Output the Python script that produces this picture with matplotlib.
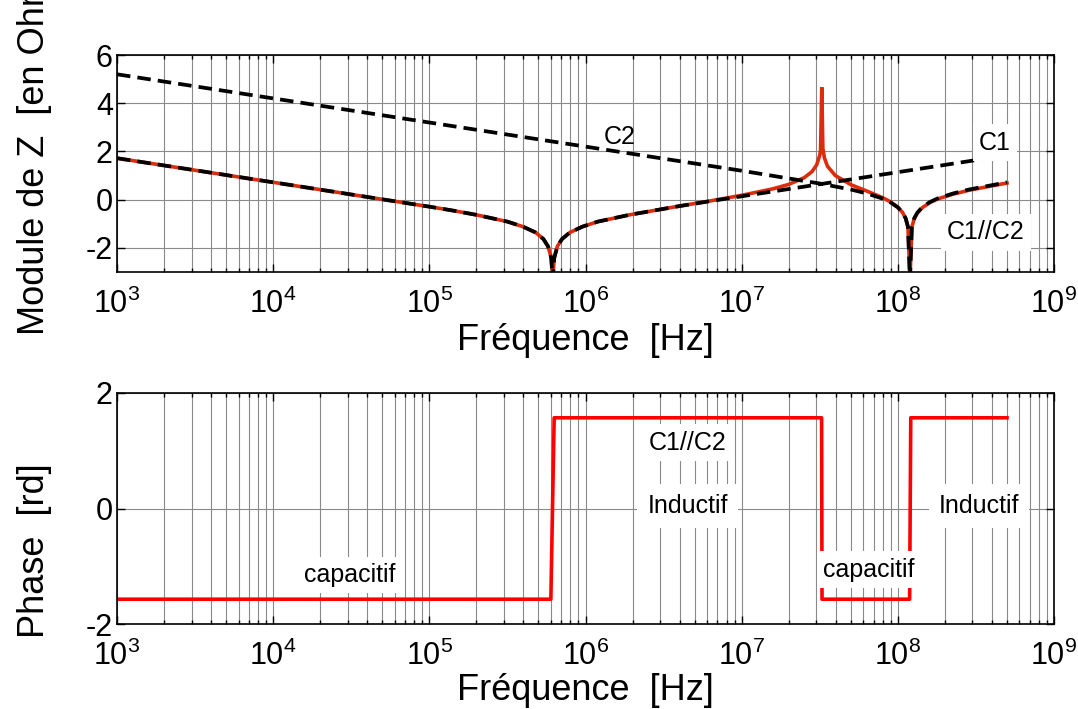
import matplotlib
matplotlib.use("Agg")
import matplotlib.pyplot as plt
from matplotlib.ticker import FixedLocator, NullFormatter

plt.rcParams['font.family'] = ['Liberation Sans', 'DejaVu Sans']
plt.rcParams['mathtext.fontset'] = 'custom'
plt.rcParams['mathtext.rm'] = 'Liberation Sans'
plt.rcParams['mathtext.it'] = 'Liberation Sans:italic'
plt.rcParams['mathtext.bf'] = 'Liberation Sans:bold'

# ---- log10 |Z| of capacitor C1 (with its series inductance) ----
c1_freq = [1e3, 1e4, 1e5, 1.41e5, 2.0e5, 3.16e5, 3.98e5, 4.79e5, 5.37e5, 5.75e5,
           6.03e5, 6.17e5, 6.31e5, 6.61e5, 7.08e5, 7.94e5, 9.55e5, 1.20e6,
           1.91e6, 3.80e6, 6.31e6, 1e7, 3.16e7, 1e8, 5.0e8]
c1_logz = [1.72, 0.72, -0.29, -0.45, -0.63, -0.91, -1.12, -1.36, -1.63, -1.93,
           -2.41, -3.3, -2.41, -1.93, -1.63, -1.36, -1.12, -0.91,
           -0.63, -0.29, -0.06, 0.14, 0.64, 1.14, 1.84]

# ---- log10 |Z| of capacitor C2 (with its series inductance) ----
c2_freq = [1e3, 1e5, 1e7, 3.16e7, 5.01e7, 6.31e7, 7.94e7, 8.91e7, 1.0e8, 1.072e8,
           1.122e8, 1.161e8, 1.196e8, 1.230e8, 1.274e8, 1.334e8, 1.429e8,
           1.603e8, 1.799e8, 2.265e8, 2.851e8, 5.0e8]
c2_logz = [5.2, 3.2, 1.2, 0.67, 0.42, 0.26, 0.05, -0.10, -0.32, -0.54,
           -0.77, -1.12, -3.3, -1.12, -0.77, -0.54, -0.32,
           -0.10, 0.05, 0.26, 0.42, 0.72]

# ---- log10 |Z| of C1 // C2 ----
par_freq = [1e3, 1e4, 1e5, 1.41e5, 2.0e5, 3.16e5, 3.98e5, 4.79e5, 5.37e5, 5.75e5,
            6.03e5, 6.17e5, 6.31e5, 6.61e5, 7.08e5, 7.94e5, 9.55e5, 1.20e6,
            1.91e6, 3.80e6, 6.31e6, 1e7, 1.585e7, 1.995e7, 2.512e7, 2.818e7,
            3.020e7, 3.162e7, 3.199e7, 3.258e7, 3.311e7, 3.388e7, 3.548e7,
            3.981e7, 5.012e7, 6.310e7, 7.943e7, 8.913e7, 1.0e8, 1.072e8,
            1.122e8, 1.161e8, 1.196e8, 1.230e8, 1.274e8, 1.334e8, 1.429e8,
            1.603e8, 1.799e8, 2.265e8, 2.851e8, 5.0e8]
par_logz = [1.72, 0.72, -0.29, -0.45, -0.63, -0.91, -1.12, -1.36, -1.63, -1.93,
            -2.41, -3.3, -2.41, -1.93, -1.63, -1.36, -1.12, -0.91,
            -0.63, -0.29, -0.05, 0.18, 0.45, 0.63, 0.91, 1.16,
            1.44, 1.84, 2.04, 4.66, 2.12, 1.73, 1.38,
            1.00, 0.62, 0.36, 0.09, -0.08, -0.31, -0.53,
            -0.78, -1.13, -3.3, -1.14, -0.78, -0.55, -0.34,
            -0.12, 0.03, 0.23, 0.39, 0.69]

# ---- phase of C1 // C2 [rd] ----
phase_freq = [1e3, 6.0e5, 6.3e5, 3.25e7, 3.27e7, 1.19e8, 1.21e8, 5.0e8]
phase_rad = [-1.5708, -1.5708, 1.5708, 1.5708, -1.5708, -1.5708, 1.5708, 1.5708]

decades = [3, 4, 5, 6, 7, 8, 9]
mag_yticks = [-2, 0, 2, 4, 6]
phase_yticks = [-2, 0, 2]

RED_MAG = '#dc2c0c'
RED_PHASE = '#ff0000'
GRID = '#8a8a8a'
TICK_FS = 22
LABEL_FS = 26
NOTE_FS = 18

fig = plt.figure(figsize=(10.78, 7.09), dpi=100)
ax1 = fig.add_axes([117 / 1078, 1 - 272 / 709, 937 / 1078, 217 / 709])
ax2 = fig.add_axes([117 / 1078, 1 - 624 / 709, 937 / 1078, 231 / 709])


def style_axis(ax, yticks, ylim):
    ax.set_xscale('log')
    ax.set_xlim(10.0 ** decades[0], 10.0 ** decades[-1])
    ax.set_ylim(*ylim)
    ax.xaxis.set_major_locator(FixedLocator([10.0 ** d for d in decades]))
    ax.set_xticklabels([r'$10^{%d}$' % d for d in decades])
    minors = [m * 10.0 ** d for d in decades[:-1] for m in range(2, 10)]
    ax.xaxis.set_minor_locator(FixedLocator(minors))
    ax.xaxis.set_minor_formatter(NullFormatter())
    ax.set_yticks(yticks)
    ax.set_yticklabels([str(v) for v in yticks])
    ax.grid(True, which='major', axis='both', color=GRID, lw=0.8)
    ax.grid(True, which='minor', axis='x', color=GRID, lw=0.8)
    ax.set_axisbelow(True)
    ax.tick_params(which='both', direction='in', top=True, right=True,
                   labelsize=TICK_FS, width=1, color='black')
    ax.tick_params(axis='x', which='both', pad=12)
    ax.tick_params(axis='y', which='both', pad=3)
    ax.tick_params(which='major', length=6)
    ax.tick_params(which='minor', length=3)
    for s in ax.spines.values():
        s.set_linewidth(1.2)


style_axis(ax1, mag_yticks, (-3, 6))
style_axis(ax2, phase_yticks, (-2, 2))

# magnitude: parallel combination in red, single capacitors dashed black
ax1.plot(par_freq, par_logz, color=RED_MAG, lw=2.6, solid_joinstyle='miter')
dash = dict(color='black', lw=2.7, linestyle=(0, (3.6, 1.9)))
ax1.plot(c1_freq, c1_logz, **dash)
ax1.plot(c2_freq, c2_logz, **dash)

box = dict(facecolor='white', edgecolor='none', boxstyle='square,pad=0.25')
ax1.text(1.66e6, 2.58, 'C2', fontsize=NOTE_FS, ha='center', va='center')
ax1.text(4.2e8, 2.37, 'C1', fontsize=NOTE_FS, ha='center', va='center', bbox=box)
ax1.text(3.65e8, -1.36, 'C1//C2', fontsize=NOTE_FS, ha='center', va='center', bbox=box)

# phase
ax2.plot(phase_freq, phase_rad, color=RED_PHASE, lw=2.6)
ax2.text(3.1e4, -1.15, 'capacitif', fontsize=NOTE_FS, ha='center', va='center', bbox=box)
ax2.text(4.5e6, 1.14, 'C1//C2', fontsize=NOTE_FS, ha='center', va='center', bbox=box)
box_wide = dict(facecolor='white', edgecolor='none', boxstyle='square,pad=0.4')
ax2.text(4.5e6, 0.04, 'Inductif', fontsize=NOTE_FS, ha='center', va='center', bbox=box_wide)
ax2.text(6.5e7, -1.06, 'capacitif', fontsize=NOTE_FS, ha='center', va='center', bbox=box)
ax2.text(3.3e8, 0.04, 'Inductif', fontsize=NOTE_FS, ha='center', va='center', bbox=box_wide)

fig.text(585 / 1078, 1 - 341 / 709, 'Fréquence  [Hz]', fontsize=LABEL_FS,
         ha='center', va='center')
fig.text(585 / 1078, 1 - 690 / 709, 'Fréquence  [Hz]', fontsize=LABEL_FS,
         ha='center', va='center')
fig.text(35 / 1078, 1 - 150 / 709, 'Module de Z  [en Ohm]', fontsize=LABEL_FS,
         ha='center', va='center', rotation=90)
fig.text(35 / 1078, 1 - 551 / 709, 'Phase  [rd]', fontsize=LABEL_FS,
         ha='center', va='center', rotation=90)

fig.savefig('out.png', dpi=100, facecolor='white')
